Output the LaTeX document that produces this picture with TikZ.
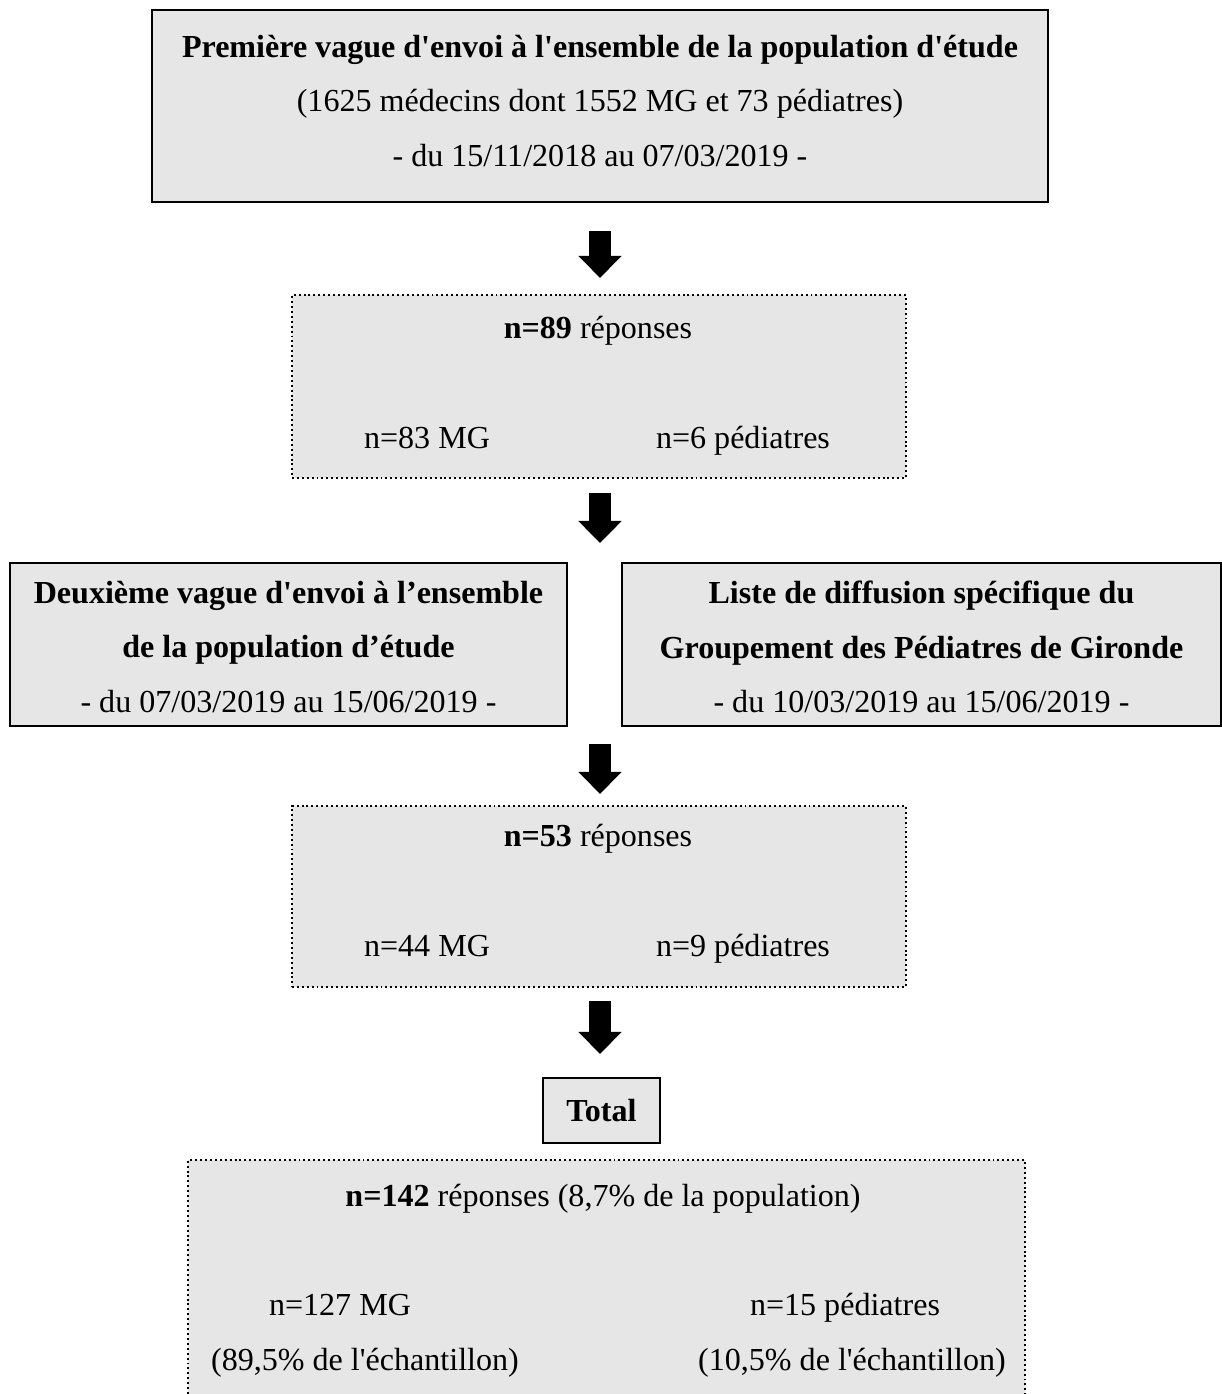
\documentclass[tikz,border=0pt]{standalone}
\usepackage{fontspec}
\newfontfamily\textefont{Liberation Serif}
\usetikzlibrary{arrows.meta}
\definecolor{boxgray}{HTML}{E6E6E6}

\tikzset{
  solidbox/.style={draw, line width=0.75pt, fill=boxgray, inner sep=0pt},
  dotline/.style={line width=0.75pt, dash pattern=on 0.7pt off 1.05pt},
  dotbox/.style={draw, dotline, fill=boxgray, inner sep=0pt},
  texte/.style={font=\textefont\fontsize{11.4}{19.5}\selectfont, align=center, inner sep=0pt},
  ligne/.style={texte, anchor=base},
  blockarrow/.style={line width=0.275cm, -{Triangle[width=0.525cm,length=0.275cm]}}
}

\begin{document}
\begin{tikzpicture}[x=0.0125cm, y=-0.0125cm]
\useasboundingbox (0,0) rectangle (1222,1394);

% Draw the boxes
\node[solidbox, minimum width=11.2cm, minimum height=2.4cm] (premiere) at (600,106) {};
\node[dotbox, minimum width=7.675cm, minimum height=2.2875cm] (reponses1) at (599,386.5) {};
\node[solidbox, minimum width=6.9625cm, minimum height=2.0375cm] (deuxieme) at (288.5,644.5) {};
\node[solidbox, minimum width=7.4875cm, minimum height=2.0375cm] (liste) at (921.5,644.5) {};
\node[dotbox, minimum width=7.675cm, minimum height=2.2625cm] (reponses2) at (599,896.5) {};
\node[solidbox, minimum width=1.4625cm, minimum height=0.8125cm, texte] (total) at (601.5,1110.5) {\textbf{Total}};
% last box runs off the page at the bottom
\fill[boxgray] (188,1160) rectangle (1025,1394);
\draw[dotline] (188,1394) |- (1025,1160) -- (1025,1394);

% Insert the texts
\node[texte] (t1) at (600,101) {\textbf{Première vague d'envoi à l'ensemble de la population d'étude}\\
  (1625 médecins dont 1552 MG et 73 pédiatres)\\
  - du 15/11/2018 au 07/03/2019 -};
\node[ligne] (t2) at (598,338) {\textbf{n=89} réponses};
\node[ligne] (t3) at (427,448) {n=83 MG};
\node[ligne] (t4) at (743,448) {n=6 pédiatres};
\node[texte] (t5) at (288.5,647) {\textbf{Deuxième vague d'envoi à l’ensemble}\\
  \textbf{de la population d’étude}\\
  - du 07/03/2019 au 15/06/2019 -};
\node[texte] (t6) at (921.5,647) {\textbf{Liste de diffusion spécifique du}\\
  \textbf{Groupement des Pédiatres de Gironde}\\
  - du 10/03/2019 au 15/06/2019 -};
\node[ligne] (t7) at (598,846) {\textbf{n=53} réponses};
\node[ligne] (t8) at (427,956) {n=44 MG};
\node[ligne] (t9) at (743,956) {n=9 pédiatres};
\node[ligne] (t10) at (603,1206) {\textbf{n=142} réponses (8,7\% de la population)};
\node[ligne] (t11) at (340,1315) {n=127 MG};
\node[ligne] (t12) at (365,1370) {(89,5\% de l'échantillon)};
\node[ligne] (t13) at (845,1315) {n=15 pédiatres};
\node[ligne] (t14) at (852,1370) {(10,5\% de l'échantillon)};

% Arrows
\coordinate (haut) at (600,563);
\coordinate (bas) at (600,726);
\draw[blockarrow, shorten <=0.35cm, shorten >=0.2cm] (premiere.south) -- (premiere.south |- reponses1.north);
\draw[blockarrow, shorten <=0.175cm, shorten >=0.25cm] (reponses1.south -| haut) -- (haut);
\draw[blockarrow, shorten <=0.225cm, shorten >=0.1375cm] (bas) -- (bas |- reponses2.north);
\draw[blockarrow, shorten <=0.1625cm, shorten >=0.2875cm] (reponses2.south -| haut) -- (haut |- total.north);
\end{tikzpicture}
\end{document}
